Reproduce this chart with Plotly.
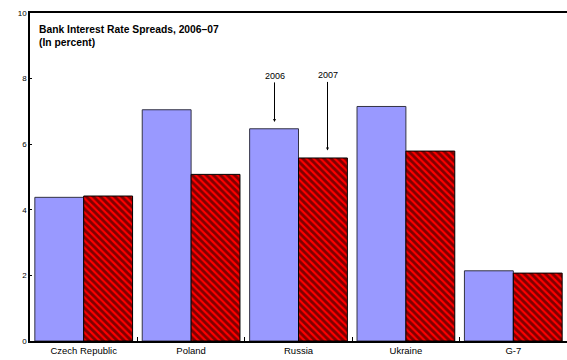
import plotly.graph_objects as go

categories = ["Czech Republic", "Poland", "Russia", "Ukraine", "G-7"]
spread_2006 = [4.38, 7.05, 6.47, 7.15, 2.14]
spread_2007 = [4.42, 5.08, 5.58, 5.79, 2.07]
y_ticks = [0, 2, 4, 6, 8, 10]

fig = go.Figure()
fig.add_trace(go.Bar(
    x=categories, y=spread_2006, name="2006",
    marker=dict(color="#9999FF", line=dict(color="#333344", width=1)),
))
fig.add_trace(go.Bar(
    x=categories, y=spread_2007, name="2007",
    marker=dict(color="#FF0000", line=dict(color="#000000", width=1),
                pattern=dict(shape="\\", fgcolor="#000000", bgcolor="#FF0000",
                             size=5, solidity=0.58, fillmode="overlay")),
))

fig.update_layout(
    width=567, height=360,
    margin=dict(l=30, r=0, t=13, b=19),
    barmode="group", bargap=0.09, bargroupgap=0,
    showlegend=False,
    plot_bgcolor="white", paper_bgcolor="white",
    font=dict(family="Liberation Sans, Arial, sans-serif", size=9, color="#000000"),
    xaxis=dict(
        showline=True, linecolor="#000000", linewidth=1.5, mirror=True,
        ticks="inside", tickson="boundaries", ticklen=4, tickcolor="#000000",
        tickfont=dict(size=9.5), showgrid=False,
    ),
    yaxis=dict(
        range=[0, 10], tickvals=y_ticks, showline=True, linecolor="#000000",
        linewidth=1.5, ticks="inside", ticklen=2, tickcolor="#000000",
        tickfont=dict(size=8), showgrid=False, zeroline=False,
    ),
    annotations=[
        dict(xref="paper", yref="paper", x=0.013, y=0.973, xanchor="left", yanchor="top",
             text="<b>Bank Interest Rate Spreads, 2006–07</b><br><b>(In percent)</b>",
             showarrow=False, align="left", font=dict(size=10.3)),
        dict(x="Russia", y=6.68, xshift=-24, text="2006", showarrow=True,
             arrowhead=2, arrowsize=0.6, arrowwidth=1, arrowcolor="#000000",
             ax=0, ay=-46, font=dict(size=9)),
        dict(x="Russia", y=5.81, xshift=29, text="2007", showarrow=True,
             arrowhead=2, arrowsize=0.6, arrowwidth=1, arrowcolor="#000000",
             ax=0, ay=-75, font=dict(size=9)),
    ],
)

fig.write_html("out.html")
